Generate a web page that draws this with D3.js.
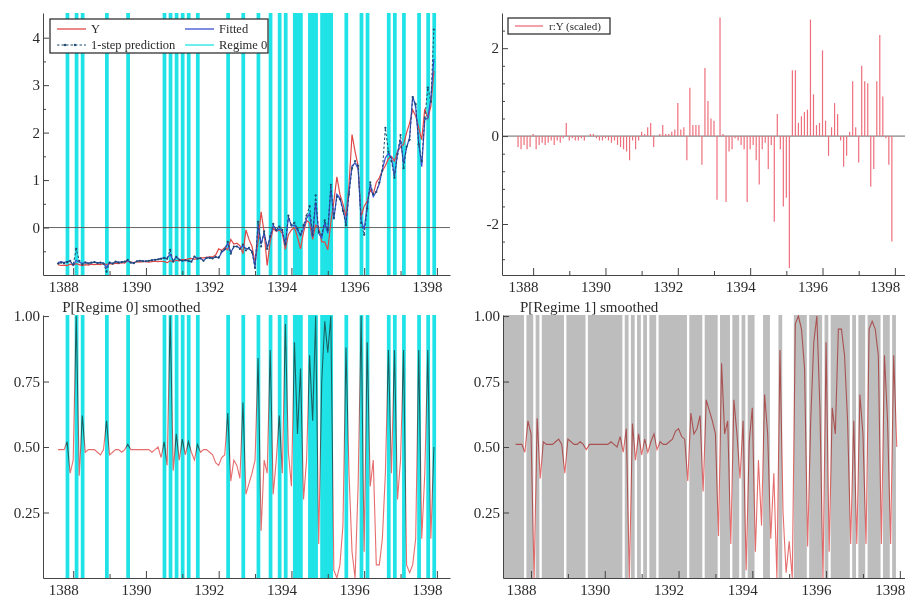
<!DOCTYPE html>
<html>
<head>
<meta charset="utf-8">
<script src="https://cdn.jsdelivr.net/npm/d3@7"></script>
<style>
  body { margin: 0; background: #fff; }
  svg text { font-family: "Liberation Serif", "Times New Roman", serif; fill: #2a2a2a; }
</style>
</head>
<body>
<svg id="chart" width="905" height="600"></svg>
<script>
// monthly sample 1387(8) - 1397(12)
const START_YEAR = 1387
const START_MONTH = 8

const yActual = [
  -0.78, -0.80, -0.79, -0.80, -0.77, -0.79, -0.76, -0.78, -0.80, -0.78,
  -0.79, -0.77, -0.78, -0.77, -0.78, -0.76, -0.78, -0.76, -0.77, -0.75,
  -0.76, -0.74, -0.75, -0.70, -0.73, -0.74, -0.72, -0.73, -0.72, -0.72,
  -0.73, -0.72, -0.71, -0.72, -0.71, -0.72, -0.74, -0.70, -0.72, -0.69,
  -0.70, -0.67, -0.68, -0.66, -0.65, -0.67, -0.65, -0.64, -0.64, -0.63,
  -0.62, -0.62, -0.58, -0.45, -0.48, -0.42, -0.47, -0.25, -0.35, -0.33,
  -0.38, -0.55, -0.05, -0.25, -0.40, -0.74, -0.30, 0.33, -0.10, -0.80,
  -0.30, -0.02, -0.08, -0.05, -0.12, -0.46, -0.15, -0.05, 0.00, -0.20,
  -0.45, -0.10, 0.15, 0.10, -0.25, 0.05, 0.00, -0.30, -0.30, -0.47,
  0.10, 0.55, 1.07, 0.70, 0.50, 0.23, 0.90, 1.96, 1.60, 1.30,
  0.23, 0.45, 0.55, 0.80, 0.70, 0.95, 1.05, 1.20, 1.30, 1.45,
  1.50, 1.40, 1.60, 1.70, 1.75, 2.00, 2.20, 2.48, 2.35, 2.10,
  1.85, 2.50, 2.30, 2.55, 3.30
]

const yFitted = [
  -0.74, -0.72, -0.74, -0.72, -0.71, -0.80, -0.69, -0.73, -0.76, -0.73,
  -0.75, -0.74, -0.73, -0.74, -0.74, -0.75, -0.85, -0.73, -0.76, -0.72,
  -0.73, -0.73, -0.72, -0.70, -0.74, -0.75, -0.71, -0.70, -0.70, -0.71,
  -0.70, -0.68, -0.68, -0.67, -0.65, -0.64, -0.65, -0.56, -0.70, -0.62,
  -0.67, -0.70, -0.69, -0.71, -0.72, -0.61, -0.65, -0.65, -0.70, -0.64,
  -0.63, -0.65, -0.62, -0.64, -0.52, -0.47, -0.33, -0.52, -0.41, -0.39,
  -0.44, -0.39, -0.44, -0.45, -0.50, -0.83, 0.06, -0.35, -0.11, -0.42,
  -0.21, 0.05, -0.07, -0.03, -0.07, -0.38, 0.22, 0.03, 0.05, -0.06,
  -0.17, -0.02, 0.19, 0.29, -0.20, 0.54, -0.12, -0.22, 0.10, -0.12,
  0.85, 0.17, 0.70, 0.62, 0.39, 0.09, 0.75, 1.30, 1.36, 1.24,
  0.15, -0.04, 0.46, 0.91, 0.65, 0.76, 0.92, 1.22, 1.47, 1.56,
  1.47, 1.09, 1.55, 1.85, 1.35, 1.69, 1.90, 2.77, 2.54, 1.79,
  1.28, 2.27, 2.31, 2.71, 3.55
]

const yPredict = [
  -0.76, -0.74, -0.75, -0.73, -0.70, -0.78, -0.45, -0.70, -0.78, -0.74,
  -0.76, -0.74, -0.73, -0.75, -0.74, -0.76, -0.93, -0.74, -0.76, -0.72,
  -0.74, -0.73, -0.72, -0.68, -0.74, -0.75, -0.71, -0.70, -0.71, -0.71,
  -0.70, -0.69, -0.68, -0.67, -0.66, -0.64, -0.66, -0.47, -0.72, -0.62,
  -0.68, -0.70, -0.69, -0.70, -0.72, -0.61, -0.66, -0.65, -0.70, -0.64,
  -0.64, -0.65, -0.62, -0.63, -0.50, -0.46, -0.30, -0.55, -0.40, -0.40,
  -0.45, -0.36, -0.48, -0.43, -0.52, -0.85, 0.12, -0.40, -0.08, -0.45,
  -0.18, 0.08, -0.05, 0.02, -0.05, -0.35, 0.25, 0.05, 0.10, -0.02,
  -0.15, 0.05, 0.25, 0.45, -0.15, 0.68, -0.10, -0.15, 0.15, -0.05,
  0.90, 0.20, 0.65, 0.60, 0.35, 0.05, 0.70, 1.25, 1.40, 1.30,
  0.10, -0.15, 0.40, 0.95, 0.70, 0.75, 0.95, 1.20, 2.10, 1.60,
  1.40, 1.05, 1.55, 1.95, 1.25, 1.70, 1.85, 2.75, 2.60, 1.75,
  1.40, 2.30, 2.95, 2.65, 4.17
]

const residScaled = [
  -0.25, -0.30, -0.20, -0.30, -0.25, 0.05, -0.30, -0.20, -0.15, -0.20,
  -0.15, -0.10, -0.20, -0.10, -0.15, -0.05, 0.30, -0.10, -0.05, -0.10,
  -0.10, -0.05, -0.10, 0.00, 0.05, 0.05, -0.05, -0.10, -0.10, -0.05,
  -0.10, -0.15, -0.10, -0.20, -0.25, -0.30, -0.35, -0.55, -0.10, -0.30,
  -0.10, 0.10, 0.05, 0.20, 0.30, -0.25, 0.00, 0.05, 0.25, 0.05,
  0.05, 0.10, 0.15, 0.75, 0.15, 0.20, -0.55, 1.10, 0.25, 0.25,
  0.25, -0.65, 1.55, 0.80, 0.40, 0.35, -1.45, 2.70, 0.05, -1.50,
  -0.35, -0.30, -0.05, -0.10, -0.20, -0.30, -1.50, -0.30, -0.20, -0.55,
  -1.10, -0.30, -0.15, -0.75, -0.20, -1.95, 0.50, -0.30, -1.60, -1.40,
  -3.00, 1.50, 1.50, 0.30, 0.45, 0.55, 0.60, 2.65, 0.95, 0.25,
  0.30, 1.95, 0.35, -0.45, 0.20, 0.75, 0.50, -0.10, -0.70, -0.45,
  0.10, 1.25, 0.20, -0.60, 1.60, 1.25, 1.20, -1.15, -0.75, 1.25,
  2.30, 0.90, -0.05, -0.65, -2.40
]

const pRegime0 = [
  0.49, 0.49, 0.49, 0.52, 0.40, 0.45, 1.00, 0.39, 0.62, 0.48,
  0.49, 0.49, 0.49, 0.48, 0.47, 0.49, 0.60, 0.47, 0.48, 0.49,
  0.49, 0.48, 0.49, 0.51, 0.49, 0.49, 0.49, 0.49, 0.49, 0.49,
  0.49, 0.48, 0.49, 0.50, 0.46, 0.52, 0.43, 1.00, 0.41, 0.55,
  0.45, 0.53, 0.47, 0.52, 0.48, 0.45, 0.51, 0.48, 0.49, 0.49,
  0.48, 0.47, 0.44, 0.43, 0.46, 0.47, 0.63, 0.37, 0.45, 0.43,
  0.38, 0.67, 0.32, 0.36, 0.40, 0.45, 0.84, 0.18, 0.45, 0.40,
  0.87, 0.32, 0.45, 0.62, 0.40, 0.97, 0.48, 0.35, 0.90, 0.55,
  0.80, 0.30, 0.45, 0.85, 0.60, 1.00, 0.13, 0.75, 0.98, 0.86,
  1.00, 0.03, 0.00, 0.05, 0.20, 0.88, 0.40, 0.10, 0.00, 0.35,
  1.00, 0.10, 0.90, 0.35, 0.45, 0.05, 0.05, 0.15, 0.40, 0.87,
  0.40, 0.87, 0.30, 0.45, 0.87, 0.05, 0.02, 0.05, 0.15, 0.87,
  0.15, 0.40, 0.87, 0.15, 0.50
]

// months (index into the sample) classified as Regime 0
const regime0Months = [3, 6, 8, 16, 23, 35, 37, 39, 41, 43, 46, 56, 61, 66, 70, 73, 75,
  78, 79, 80, 83, 84, 85, 87, 88, 89, 90, 95, 100, 102, 109, 111, 114, 119, 122, 124]

const xTickYears = [1388, 1390, 1392, 1394, 1396, 1398]
const xMinorYears = [1389, 1391, 1393, 1395, 1397]
const levelTicks = [0, 1, 2, 3, 4]
const residTicks = [-2, 0, 2]
const probTicks = [0.25, 0.5, 0.75, 1]

const FONT_SIZE = 15
const CYAN = '#1fe3e6'
const GRAY = '#bdbdbd'

const svg = d3.select('#chart')
const months = yActual.map((d, i) => START_YEAR + (START_MONTH - 1 + i) / 12)
const inRegime0 = new Set(regime0Months)
const plainInt = d => String(d)

const panels = {
  tl: {x: [43, 450], xDom: [1387.17, 1398.36], y: [275, 13], yDom: [-1, 4.52]},
  tr: {x: [502, 905], xDom: [1387.14, 1398.28], y: [275, 13], yDom: [-3.16, 2.8]},
  bl: {x: [43, 450], xDom: [1387.17, 1398.36], y: [578, 315], yDom: [0, 1.004]},
  br: {x: [503, 905], xDom: [1387.24, 1398.14], y: [578, 315], yDom: [0, 1.004]}
}
Object.values(panels).forEach(p => {
  p.xs = d3.scaleLinear().domain(p.xDom).range(p.x)
  p.ys = d3.scaleLinear().domain(p.yDom).range(p.y)
})

function drawBands (p, idx, color, fillToLeft) {
  const half = 1 / 24
  const left = i => (fillToLeft && i === 0) ? p.x[0] : p.xs(months[i] - half)
  svg.append('g').selectAll('rect')
    .data(idx)
    .enter()
    .append('rect')
    .attr('x', left)
    .attr('width', i => p.xs(months[i] + half) - left(i) + 0.7)
    .attr('y', p.y[1])
    .attr('height', p.y[0] - p.y[1])
    .attr('fill', color)
}

function drawZero (p) {
  svg.append('line')
    .attr('x1', p.x[0]).attr('x2', p.x[1])
    .attr('y1', p.ys(0)).attr('y2', p.ys(0))
    .attr('stroke', '#555').attr('stroke-width', 0.9)
}

function drawAxes (p, yTicks, yMinor, yFmt) {
  const gx = svg.append('g').attr('transform', `translate(0,${p.y[0]})`)
  gx.call(d3.axisBottom(p.xs).tickValues(xTickYears).tickFormat(plainInt)
    .tickSizeInner(-7).tickSizeOuter(0).tickPadding(6))
  gx.selectAll('text').attr('dx', -10).attr('font-size', FONT_SIZE)
  gx.append('g').call(d3.axisBottom(p.xs).tickValues(xMinorYears).tickFormat('')
    .tickSizeInner(-4).tickSizeOuter(0))
    .select('.domain').remove()

  const gy = svg.append('g').attr('transform', `translate(${p.x[0]},0)`)
  gy.call(d3.axisLeft(p.ys).tickValues(yTicks).tickFormat(yFmt)
    .tickSizeInner(-6).tickSizeOuter(0).tickPadding(3))
  gy.selectAll('text').attr('font-size', FONT_SIZE)
  if (yMinor.length) {
    gy.append('g').call(d3.axisLeft(p.ys).tickValues(yMinor).tickFormat('')
      .tickSizeInner(-3).tickSizeOuter(0))
      .select('.domain').remove()
  }
  svg.selectAll('.domain').attr('stroke', '#444')
  svg.selectAll('.tick line').attr('stroke', '#444')
}

/* ---------- top left: Y, fitted, 1-step prediction, regime 0 ---------- */
const tl = panels.tl
drawBands(tl, regime0Months, CYAN, false)
drawZero(tl)

const lineTL = series => d3.line().x((d, i) => tl.xs(months[i])).y(d => tl.ys(d))(series)
svg.append('path').attr('d', lineTL(yActual)).attr('fill', 'none')
  .attr('stroke', '#e04848').attr('stroke-width', 1.2)
svg.append('path').attr('d', lineTL(yFitted)).attr('fill', 'none')
  .attr('stroke', '#3a4fcf').attr('stroke-width', 1.2)
svg.append('path').attr('d', lineTL(yPredict)).attr('fill', 'none')
  .attr('stroke', '#1d4a6e').attr('stroke-width', 1).attr('stroke-dasharray', '2.5,2')
svg.append('g').selectAll('circle')
  .data(yPredict)
  .enter()
  .append('circle')
  .attr('cx', (d, i) => tl.xs(months[i])).attr('cy', d => tl.ys(d))
  .attr('r', 1.1).attr('fill', '#1d4a6e')

const legTL = svg.append('g')
legTL.append('rect').attr('x', 50).attr('y', 19).attr('width', 218).attr('height', 34)
  .attr('fill', '#fff').attr('stroke', '#333').attr('stroke-width', 1.3)
const legItems = [
  {label: 'Y', x: 57, y: 29, color: '#e04848'},
  {label: 'Fitted', x: 185, y: 29, color: '#3a4fcf'},
  {label: '1-step prediction', x: 57, y: 45, color: '#1d4a6e', dash: '2.5,2'},
  {label: 'Regime 0', x: 185, y: 45, color: CYAN}
]
legItems.forEach(it => {
  legTL.append('line').attr('x1', it.x).attr('x2', it.x + 29).attr('y1', it.y).attr('y2', it.y)
    .attr('stroke', it.color).attr('stroke-width', it.dash ? 1 : 1.3)
    .attr('stroke-dasharray', it.dash || null)
  if (it.dash) {
    [it.x + 8, it.x + 18].forEach(cx => legTL.append('circle').attr('cx', cx).attr('cy', it.y)
      .attr('r', 1.2).attr('fill', it.color))
  }
  legTL.append('text').attr('x', it.x + 34).attr('y', it.y + 4)
    .attr('font-size', 12.5).text(it.label)
})
drawAxes(tl, levelTicks, [-0.5, 0.5, 1.5, 2.5, 3.5], plainInt)

/* ---------- top right: scaled residuals ---------- */
const tr = panels.tr
drawZero(tr)
svg.append('g').selectAll('line')
  .data(residScaled)
  .enter()
  .append('line')
  .attr('x1', (d, i) => tr.xs(months[i])).attr('x2', (d, i) => tr.xs(months[i]))
  .attr('y1', tr.ys(0)).attr('y2', d => tr.ys(d))
  .attr('stroke', '#ee6f7c').attr('stroke-width', 1.2)

const legTR = svg.append('g')
legTR.append('rect').attr('x', 508).attr('y', 18).attr('width', 102).attr('height', 16)
  .attr('fill', '#fff').attr('stroke', '#333').attr('stroke-width', 1.3)
legTR.append('line').attr('x1', 515).attr('x2', 543).attr('y1', 26).attr('y2', 26)
  .attr('stroke', '#ee6f7c').attr('stroke-width', 1.3)
legTR.append('text').attr('x', 549).attr('y', 30).attr('font-size', 11).text('r:Y (scaled)')
drawAxes(tr, residTicks, [-2.8, -2.4, -1.6, -1.2, -0.8, -0.4, 0.4, 0.8, 1.2, 1.6, 2.4], plainInt)

/* ---------- bottom: smoothed regime probabilities ---------- */
function drawProb (p, values, bandIdx, bandColor, fillToLeft, title) {
  drawBands(p, bandIdx, bandColor, fillToLeft)
  svg.append('path')
    .attr('d', d3.line().x((d, i) => p.xs(months[i])).y(d => p.ys(d))(values))
    .attr('fill', 'none').attr('stroke', '#dd3c3c').attr('stroke-width', 1.1)
    .attr('stroke-opacity', 0.75)
    .style('mix-blend-mode', 'multiply')
  svg.append('text').attr('x', p.xs(1388) - 11).attr('y', 312)
    .attr('font-size', 15).text(title)
  drawAxes(p, probTicks, [], d3.format('.2f'))
}

drawProb(panels.bl, pRegime0, regime0Months, CYAN, false, 'P[Regime 0] smoothed')

// P[Regime 1] = 1 - P[Regime 0]
const pRegime1 = pRegime0.map(v => 1 - v)
const regime1Months = months.map((m, i) => i).filter(i => !inRegime0.has(i))
drawProb(panels.br, pRegime1, regime1Months, GRAY, true, 'P[Regime 1] smoothed')
</script>
</body>
</html>
